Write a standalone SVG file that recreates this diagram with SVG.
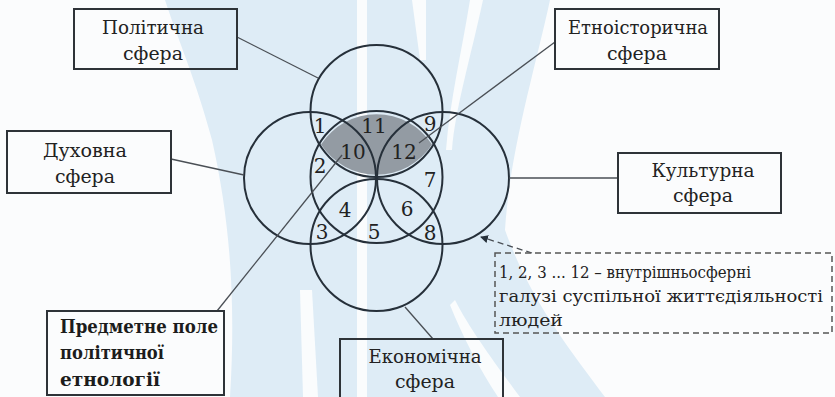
<svg xmlns="http://www.w3.org/2000/svg" width="835" height="397" viewBox="0 0 835 397">
<defs>
<style>
.wm{fill:#deecf6;stroke:none}
.wh{fill:#fafcfd;stroke:none}
.c{fill:none;stroke:#26303a;stroke-width:2}
.box{fill:none;stroke:#2e3338;stroke-width:2}
.ln{fill:none;stroke:#4a4f55;stroke-width:1.3}
.t{font-size:19px;fill:#222}
.tl{font-size:16.5px;fill:#222}
.tb{font-size:19px;font-weight:bold;fill:#1c1c1c}
.n{font-size:20px;text-anchor:middle;fill:#222}
</style>
<marker id="ah" markerWidth="8" markerHeight="8" refX="7" refY="4" orient="auto" markerUnits="userSpaceOnUse">
<path d="M0,0 L8,4 L0,8 Z" fill="#26303a"/>
</marker>
</defs>
<rect width="835" height="397" fill="#fbfcfd"/>
<g id="watermark">
<path class="wm" d="M165,0 L550,0 C535,70 510,150 505,230 C530,300 570,350 605,397 L230,397 C236,300 230,220 212,140 C196,80 178,40 165,0 Z"/>
<path class="wh" d="M357,0 L367,0 L367,397 L357,397 Z"/>
<path class="wh" d="M404,0 L426,0 L426,60 L420,60 L412,0 Z"/>
<path class="wh" d="M470,0 L483,0 C470,60 455,110 452,150 L446,150 C450,100 462,50 470,0 Z"/>
<path class="wh" d="M300,290 L312,290 L318,397 L303,397 Z"/>
<path class="wh" d="M455,300 C470,330 500,370 520,397 L498,397 C480,370 462,335 450,305 Z"/>
</g>
<g id="circles">
<path d="M321,144.5 A66,66 0 0 1 432,144.5 A66,66 0 0 1 321,144.5 Z" fill="#939ba3"/>
<circle class="c" cx="376.5" cy="111" r="66"/>
<circle class="c" cx="310" cy="178" r="66"/>
<circle class="c" cx="443" cy="178" r="66"/>
<circle class="c" cx="376.5" cy="245" r="66"/>
<circle class="c" cx="376.5" cy="177" r="66"/>
</g>
<g id="numbers" font-family="DejaVu Serif, serif">
<text class="n" x="320" y="133">1</text>
<text class="n" x="374" y="133">11</text>
<text class="n" x="430" y="131">9</text>
<text class="n" x="353" y="159">10</text>
<text class="n" x="404" y="159">12</text>
<text class="n" x="320" y="173">2</text>
<text class="n" x="430" y="187">7</text>
<text class="n" x="345" y="217">4</text>
<text class="n" x="407" y="216">6</text>
<text class="n" x="322" y="239">3</text>
<text class="n" x="374" y="239">5</text>
<text class="n" x="430" y="240">8</text>
</g>
<g id="connectors">
<line class="ln" x1="237" y1="37" x2="318" y2="78"/>
<line class="ln" x1="171" y1="159" x2="244" y2="175"/>
<line class="ln" x1="555" y1="42" x2="419" y2="143"/>
<line class="ln" x1="509" y1="178" x2="618" y2="178"/>
<line class="ln" x1="217" y1="311" x2="342" y2="155"/>
<line class="ln" x1="405" y1="307" x2="433" y2="339"/>
<line class="ln" x1="532" y1="253" x2="481" y2="237" stroke-dasharray="6 4" marker-end="url(#ah)"/>
</g>
<g id="n-political" font-family="DejaVu Serif, serif">
<rect class="box" x="74" y="9" width="163" height="60"/>
<text class="t" x="153" y="34" text-anchor="middle" textLength="102" lengthAdjust="spacingAndGlyphs">Політична</text>
<text class="t" x="153" y="60" text-anchor="middle" textLength="60" lengthAdjust="spacingAndGlyphs">сфера</text>
</g>
<g id="n-spiritual" font-family="DejaVu Serif, serif">
<rect class="box" x="7" y="131" width="164" height="62"/>
<text class="t" x="85" y="157" text-anchor="middle" textLength="84" lengthAdjust="spacingAndGlyphs">Духовна</text>
<text class="t" x="85" y="183" text-anchor="middle" textLength="60" lengthAdjust="spacingAndGlyphs">сфера</text>
</g>
<g id="n-ethnohistorical" font-family="DejaVu Serif, serif">
<rect class="box" x="555" y="9" width="164" height="60"/>
<text class="t" x="638" y="34" text-anchor="middle" textLength="140" lengthAdjust="spacingAndGlyphs">Етноісторична</text>
<text class="t" x="637" y="60" text-anchor="middle" textLength="60" lengthAdjust="spacingAndGlyphs">сфера</text>
</g>
<g id="n-cultural" font-family="DejaVu Serif, serif">
<rect class="box" x="618" y="153" width="163" height="60"/>
<text class="t" x="703" y="177" text-anchor="middle" textLength="103" lengthAdjust="spacingAndGlyphs">Культурна</text>
<text class="t" x="703" y="202" text-anchor="middle" textLength="60" lengthAdjust="spacingAndGlyphs">сфера</text>
</g>
<g id="n-economic" font-family="DejaVu Serif, serif">
<rect class="box" x="340" y="339" width="163" height="62"/>
<text class="t" x="425" y="363" text-anchor="middle" textLength="113" lengthAdjust="spacingAndGlyphs">Економічна</text>
<text class="t" x="425" y="388" text-anchor="middle" textLength="60" lengthAdjust="spacingAndGlyphs">сфера</text>
</g>
<g id="n-subject" font-family="DejaVu Serif, serif">
<rect class="box" x="47" y="311" width="177" height="84"/>
<text class="tb" x="60" y="333" textLength="158" lengthAdjust="spacingAndGlyphs">Предметне поле</text>
<text class="tb" x="60" y="359" textLength="104" lengthAdjust="spacingAndGlyphs">політичної</text>
<text class="tb" x="60" y="386" textLength="100" lengthAdjust="spacingAndGlyphs">етнології</text>
</g>
<g id="n-legend" font-family="DejaVu Serif, serif">
<rect x="495" y="253" width="337" height="80" fill="none" stroke="#555" stroke-width="1.5" stroke-dasharray="6 4"/>
<text class="tl" x="499" y="278" textLength="252" lengthAdjust="spacingAndGlyphs">1, 2, 3 ... 12 – внутрішньосферні</text>
<text class="tl" x="499" y="302" textLength="324" lengthAdjust="spacingAndGlyphs">галузі суспільної життєдіяльності</text>
<text class="tl" x="499" y="326" textLength="64" lengthAdjust="spacingAndGlyphs">людей</text>
</g>
</svg>
